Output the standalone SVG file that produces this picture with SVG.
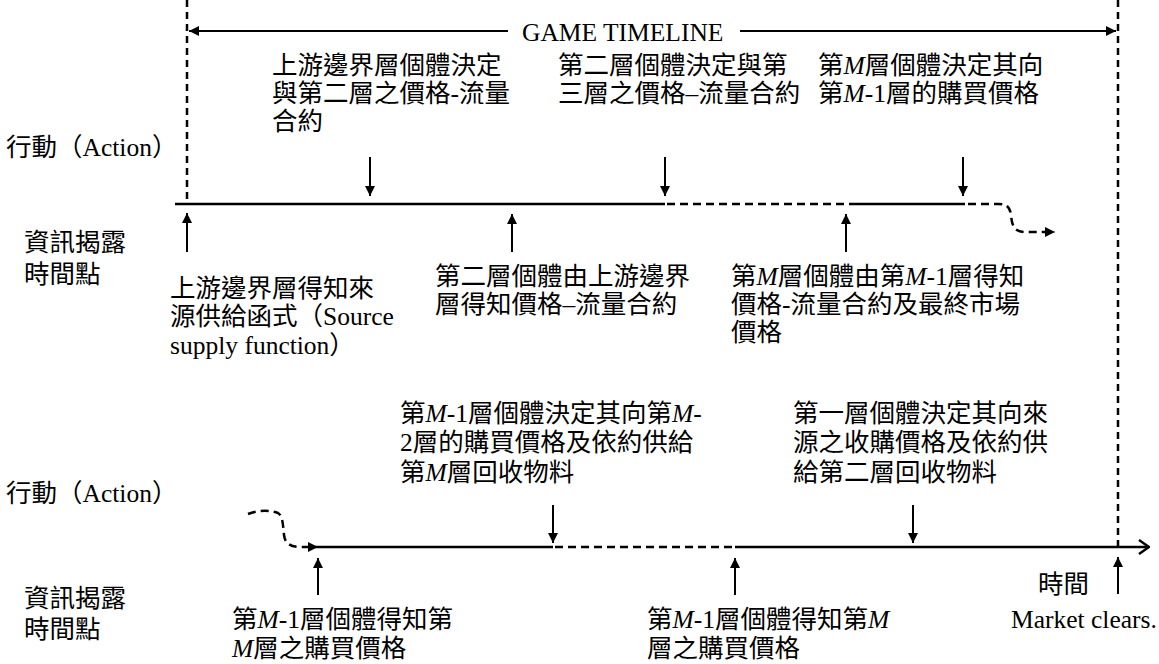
<svg xmlns="http://www.w3.org/2000/svg" width="1159" height="664" viewBox="0 0 1159 664">
<style>
.t{font-family:'Liberation Serif','Noto Sans CJK TC',serif;font-size:25.5px;fill:#000}
.i{font-style:italic}
.ln{stroke:#000;stroke-width:2.5;fill:none}
.ar{stroke:#000;stroke-width:2;fill:none}
.dl{stroke:#000;stroke-width:2.5;fill:none;stroke-dasharray:8 5}
.dv{stroke:#000;stroke-width:2.5;fill:none;stroke-dasharray:7 5}
</style>
<defs>
<marker id="ah" viewBox="0 0 10 10" refX="10" refY="5" markerWidth="11" markerHeight="10" markerUnits="userSpaceOnUse" orient="auto"><path d="M0,0 L10,5 L0,10 z" fill="#000"/></marker>
<marker id="ao" viewBox="0 0 12 16" refX="11" refY="8" markerWidth="12" markerHeight="16" markerUnits="userSpaceOnUse" orient="auto"><path d="M1,1 L11,8 L1,15" fill="none" stroke="#000" stroke-width="2.5"/></marker>
</defs>
<g id="connectors">
<line class="dv" x1="187" y1="0" x2="187" y2="205"/>
<line class="dv" x1="1118" y1="0" x2="1118" y2="548"/>
<line class="ar" x1="508" y1="31" x2="189" y2="31" marker-end="url(#ah)"/>
<line class="ar" x1="740" y1="31" x2="1116" y2="31" marker-end="url(#ah)"/>
<line class="ln" x1="175" y1="204" x2="665" y2="204"/>
<line class="dl" x1="667" y1="204" x2="850" y2="204"/>
<line class="ln" x1="850" y1="204" x2="965" y2="204"/>
<path class="dl" d="M968,204 L998,204 C1008,204 1010,208 1011,215 C1012,226 1014,232 1026,232 L1055,232" marker-end="url(#ah)"/>
<line class="ar" x1="370" y1="157" x2="370" y2="196" marker-end="url(#ah)"/>
<line class="ar" x1="665" y1="157" x2="665" y2="196" marker-end="url(#ah)"/>
<line class="ar" x1="963" y1="157" x2="963" y2="196" marker-end="url(#ah)"/>
<line class="ar" x1="187" y1="252" x2="187" y2="213" marker-end="url(#ah)"/>
<line class="ar" x1="512" y1="252" x2="512" y2="214" marker-end="url(#ah)"/>
<line class="ar" x1="846" y1="252" x2="846" y2="214" marker-end="url(#ah)"/>
<path class="dl" d="M248,514 C258,510 270,510 278,513 C283,516 283,526 284,535 C285,543 290,547 300,547 L318,547" marker-end="url(#ah)"/>
<line class="ln" x1="318" y1="547" x2="553" y2="547"/>
<line class="dl" x1="555" y1="547" x2="735" y2="547"/>
<line class="ln" x1="735" y1="547" x2="1149" y2="547" marker-end="url(#ao)"/>
<line class="ar" x1="553" y1="505" x2="553" y2="543" marker-end="url(#ah)"/>
<line class="ar" x1="913" y1="505" x2="913" y2="543" marker-end="url(#ah)"/>
<line class="ar" x1="318" y1="595" x2="318" y2="558" marker-end="url(#ah)"/>
<line class="ar" x1="735" y1="595" x2="735" y2="558" marker-end="url(#ah)"/>
<line class="ar" x1="1118" y1="594" x2="1118" y2="557" marker-end="url(#ah)"/>
</g>
<g id="title"><text class="t" x="522" y="40.5">GAME TIMELINE</text></g>
<g id="act1"><text class="t" x="272" y="73.5">上游邊界層個體決定</text><text class="t" x="272" y="101.5">與第二層之價格-流量</text><text class="t" x="272" y="129.5">合約</text></g>
<g id="act2"><text class="t" x="558" y="73.5">第二層個體決定與第</text><text class="t" x="558" y="101.5">三層之價格–流量合約</text></g>
<g id="act3"><text class="t" x="818" y="73.5">第<tspan class="i">M</tspan>層個體決定其向</text><text class="t" x="818" y="101.5">第<tspan class="i">M</tspan>-1層的購買價格</text></g>
<g id="label-action1"><text class="t" x="6" y="155.5">行動（Action）</text></g>
<g id="label-info1"><text class="t" x="24" y="251">資訊揭露</text><text class="t" x="24" y="283">時間點</text></g>
<g id="info1"><text class="t" x="170" y="297">上游邊界層得知來</text><text class="t" x="170" y="325">源供給函式（Source</text><text class="t" x="170" y="354">supply function）</text></g>
<g id="info2"><text class="t" x="435" y="284.5">第二層個體由上游邊界</text><text class="t" x="435" y="312.5">層得知價格–流量合約</text></g>
<g id="info3"><text class="t" x="731" y="284.5">第<tspan class="i">M</tspan>層個體由第<tspan class="i">M</tspan>-1層得知</text><text class="t" x="731" y="312.5">價格-流量合約及最終市場</text><text class="t" x="731" y="341">價格</text></g>
<g id="act4"><text class="t" x="400" y="422">第<tspan class="i">M</tspan>-1層個體決定其向第<tspan class="i">M</tspan>-</text><text class="t" x="400" y="451">2層的購買價格及依約供給</text><text class="t" x="400" y="480.5">第<tspan class="i">M</tspan>層回收物料</text></g>
<g id="act5"><text class="t" x="793" y="422">第一層個體決定其向來</text><text class="t" x="793" y="451">源之收購價格及依約供</text><text class="t" x="793" y="480.5">給第二層回收物料</text></g>
<g id="label-action2"><text class="t" x="6" y="502">行動（Action）</text></g>
<g id="label-info2"><text class="t" x="24" y="607">資訊揭露</text><text class="t" x="24" y="638">時間點</text></g>
<g id="info4"><text class="t" x="232" y="628">第<tspan class="i">M</tspan>-1層個體得知第</text><text class="t" x="232" y="657"><tspan class="i">M</tspan>層之購買價格</text></g>
<g id="info5"><text class="t" x="647" y="628">第<tspan class="i">M</tspan>-1層個體得知第<tspan class="i">M</tspan></text><text class="t" x="647" y="657">層之購買價格</text></g>
<g id="time-label"><text class="t" x="1038" y="592.5">時間</text></g>
<g id="market"><text class="t" x="1011" y="628">Market clears.</text></g>
</svg>
